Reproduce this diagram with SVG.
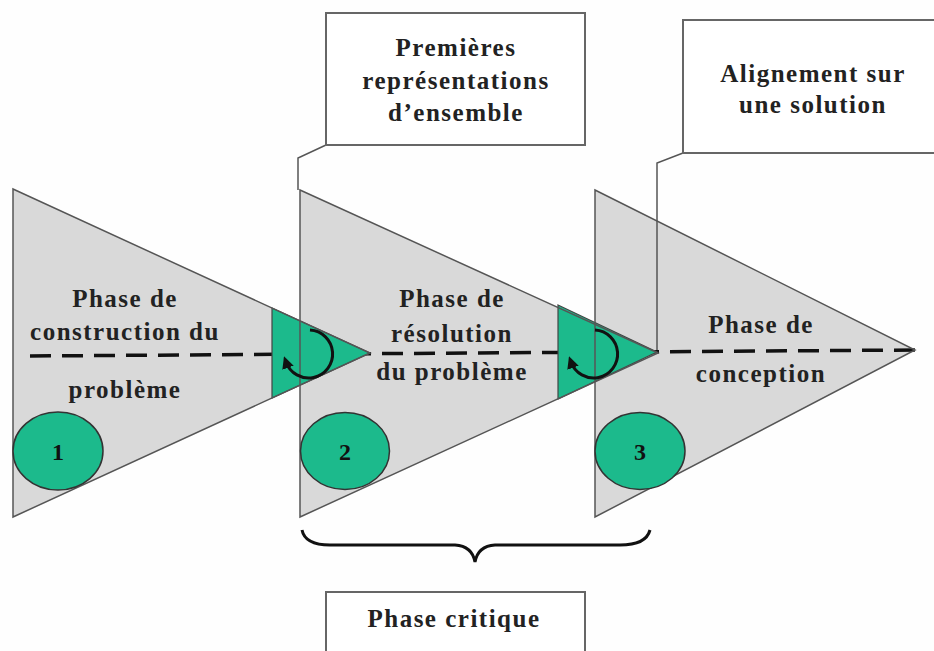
<svg xmlns="http://www.w3.org/2000/svg" width="934" height="651" viewBox="0 0 934 651">
<defs>
<style>
.tri{fill:#d9d9d9;stroke:none}
.edge{fill:none;stroke:#555;stroke-width:1.5}
.tip{fill:#1cba8c;stroke:#444;stroke-width:1.2}
.circ{fill:#1cba8c;stroke:#333;stroke-width:1.5}
.box{fill:#fff;stroke:#666;stroke-width:2}
.lbl{font-family:"Liberation Serif",serif;font-weight:bold;font-size:25px;letter-spacing:1.5px;fill:#222;text-anchor:middle}
.num{font-family:"Liberation Serif",serif;font-weight:bold;font-size:24px;fill:#111;text-anchor:middle}
.cyc{fill:none;stroke:#111;stroke-width:3}
</style>
<marker id="ah" viewBox="0 0 10 10" refX="5" refY="5" markerWidth="4" markerHeight="4" orient="auto">
<path d="M0,0 L10,5 L0,10 z" fill="#111"/>
</marker>
</defs>
<rect width="934" height="651" fill="#fefefe"/>
<g id="phase1-shape"><polygon class="tri" points="13,189 370,353 13,517"/></g>
<g id="phase2-shape"><polygon class="tri" points="300,190 658,353 300,517"/></g>
<g id="phase3-shape"><polygon class="tri" points="595,190 915,350 595,517"/></g>
<g id="connectors">
<line x1="30" y1="356" x2="915" y2="350" stroke="#111" stroke-width="3.5" stroke-dasharray="21,11"/>
</g>
<g id="tips">
<polygon class="tip" points="272,308 370,353 272,398"/>
<polygon class="tip" points="558,305 657,352 558,399"/>
</g>
<g id="edges">
<polygon class="edge" points="13,189 370,353 13,517"/>
<polygon class="edge" points="300,190 658,353 300,517"/>
<polygon class="edge" points="595,190 915,350 595,517"/>
<polyline class="edge" points="326,145 298,158 298,190"/>
<polyline class="edge" points="683,153 657,163 657,350"/>
</g>
<g id="cycle1"><path class="cyc" d="M310,330 A24,24 0 1 1 286,362" marker-end="url(#ah)"/></g>
<g id="cycle2"><path class="cyc" d="M595,330 A24,24 0 1 1 571,362" marker-end="url(#ah)"/></g>
<g id="node-1"><ellipse class="circ" cx="58" cy="451" rx="45" ry="39"/><text class="num" x="58" y="460">1</text></g>
<g id="node-2"><ellipse class="circ" cx="345" cy="451" rx="44.5" ry="38.5"/><text class="num" x="345" y="460">2</text></g>
<g id="node-3"><ellipse class="circ" cx="640" cy="451" rx="45" ry="38.5"/><text class="num" x="640" y="460">3</text></g>
<g id="label-phase1">
<text class="lbl" x="125" y="307">Phase de</text>
<text class="lbl" x="125" y="340">construction du</text>
<text class="lbl" x="125" y="398">problème</text>
</g>
<g id="label-phase2">
<text class="lbl" x="452" y="307">Phase de</text>
<text class="lbl" x="452" y="342">résolution</text>
<text class="lbl" x="452" y="380">du problème</text>
</g>
<g id="label-phase3">
<text class="lbl" x="761" y="333">Phase de</text>
<text class="lbl" x="761" y="382">conception</text>
</g>
<g id="callout-representations">
<rect class="box" x="326" y="13" width="259" height="132"/>
<text class="lbl" x="456" y="56">Premières</text>
<text class="lbl" x="456" y="89">représentations</text>
<text class="lbl" x="456" y="121">d’ensemble</text>
</g>
<g id="callout-alignement">
<rect class="box" x="683" y="20" width="260" height="133"/>
<text class="lbl" x="813" y="82">Alignement sur</text>
<text class="lbl" x="813" y="113">une solution</text>
</g>
<g id="brace"><path d="M302,530 Q305,545 330,545 L455,545 Q472,546 475,562 Q478,546 495,545 L620,545 Q646,545 650,530" fill="none" stroke="#111" stroke-width="3"/></g>
<g id="phase-critique">
<rect class="box" x="326" y="592" width="259" height="70"/>
<text class="lbl" x="454" y="627">Phase critique</text>
</g>
</svg>
